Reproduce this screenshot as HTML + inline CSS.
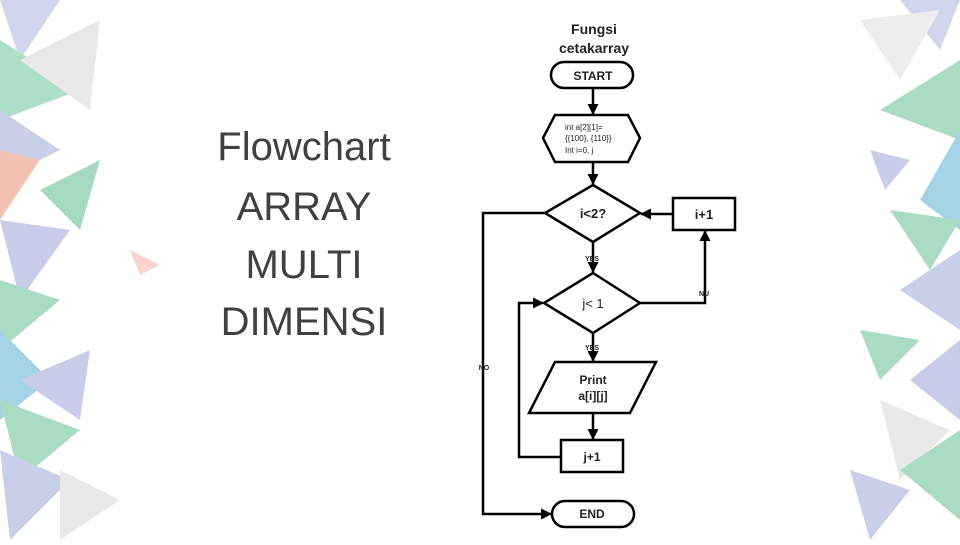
<!DOCTYPE html><html><head><style>body{margin:0;width:960px;height:540px;overflow:hidden;background:#fff;font-family:"Liberation Sans",sans-serif}</style></head><body>
<svg width="960" height="540" viewBox="0 0 960 540" xmlns="http://www.w3.org/2000/svg">
<g opacity="0.45">
<polygon points="0,0 60,0 20,60" fill="#9aa6d8"/>
<polygon points="0,40 80,90 0,120" fill="#4cb885"/>
<polygon points="20,60 100,20 90,110" fill="#d0d0d0"/>
<polygon points="0,110 60,150 0,180" fill="#8c96d0"/>
<polygon points="0,150 40,160 0,220" fill="#e77a5c"/>
<polygon points="40,190 100,160 80,230" fill="#3aae77"/>
<polygon points="0,220 70,230 20,300" fill="#8892cf"/>
<polygon points="0,280 60,300 0,350" fill="#45b37b"/>
<polygon points="130,250 160,265 140,275" fill="#f0a090"/>
<polygon points="0,330 50,380 0,420" fill="#3a9fc9"/>
<polygon points="20,380 90,350 80,420" fill="#8892cf"/>
<polygon points="0,400 80,430 20,480" fill="#45b37b"/>
<polygon points="0,450 70,480 10,540" fill="#8c96d0"/>
<polygon points="60,470 120,500 60,540" fill="#cfcfcf"/>
<polygon points="960,0 900,0 940,50" fill="#9aa6d8"/>
<polygon points="860,20 940,10 900,80" fill="#d8d8d8"/>
<polygon points="960,60 880,110 960,140" fill="#45b37b"/>
<polygon points="870,150 910,160 885,190" fill="#8892cf"/>
<polygon points="960,130 920,200 960,230" fill="#3a9fc9"/>
<polygon points="890,210 960,220 930,270" fill="#45b37b"/>
<polygon points="960,250 900,290 960,330" fill="#8c96d0"/>
<polygon points="860,330 920,340 880,380" fill="#45b37b"/>
<polygon points="960,340 910,380 960,420" fill="#8892cf"/>
<polygon points="880,400 950,430 900,480" fill="#d0d0d0"/>
<polygon points="960,430 900,470 960,520" fill="#45b37b"/>
<polygon points="850,470 910,490 870,540" fill="#8c96d0"/>
</g>
<g font-size="40" fill="#404040" text-anchor="middle" font-family="Liberation Sans">
<text x="304" y="160">Flowchart</text><text x="304" y="220">ARRAY</text><text x="304" y="278">MULTI</text><text x="304" y="335">DIMENSI</text>
</g>
<g font-weight="bold" text-anchor="middle" fill="#222">
<text x="594" y="34" font-size="14">Fungsi</text><text x="594" y="53" font-size="14">cetakarray</text>
</g>
<defs><marker id="a" markerWidth="11" markerHeight="11" refX="10" refY="5.5" orient="auto" markerUnits="userSpaceOnUse"><path d="M0,0L11,5.5L0,11z" fill="#000"/></marker></defs>
<g stroke="#000" stroke-width="2.5" fill="#fff">
<rect x="551" y="62" width="82" height="26" rx="13"/>
<polygon points="555,115 628,115 640,138 628,162 555,162 543,138"/>
<polygon points="593,185 640,213 593,242 545,213"/>
<rect x="673" y="198" width="62" height="32"/>
<polygon points="593,273 640,303 593,333 544,303"/>
<polygon points="555,362 656,362 630,413 529,413"/>
<rect x="561" y="440" width="62" height="32"/>
<rect x="552" y="501" width="82" height="26" rx="13"/>
<g fill="none">
<line x1="593" y1="88" x2="593" y2="114" marker-end="url(#a)"/>
<line x1="593" y1="162" x2="593" y2="184" marker-end="url(#a)"/>
<line x1="593" y1="242" x2="593" y2="272" marker-end="url(#a)"/>
<line x1="593" y1="333" x2="593" y2="361" marker-end="url(#a)"/>
<line x1="593" y1="413" x2="593" y2="439" marker-end="url(#a)"/>
<line x1="673" y1="214" x2="641" y2="214" marker-end="url(#a)"/>
<polyline points="640,303 705,303 705,231" marker-end="url(#a)"/>
<polyline points="561,457 519,457 519,303 543,303" marker-end="url(#a)"/>
<polyline points="545,213 483,213 483,514 551,514" marker-end="url(#a)"/>
</g></g>
<g text-anchor="middle" fill="#222" font-weight="bold">
<text x="593" y="80" font-size="12">START</text>
<text x="593" y="218" font-size="13">i&lt;2?</text>
<text x="704" y="219" font-size="13">i+1</text>
<text x="593" y="308" font-size="13" font-weight="normal">j&lt; 1</text>
<text x="593" y="384" font-size="12">Print</text><text x="593" y="400" font-size="12">a[i][j]</text>
<text x="592" y="461" font-size="12">j+1</text>
<text x="592" y="518" font-size="12">END</text>
<text x="592" y="261" font-size="7">YES</text>
<text x="592" y="350" font-size="7">YES</text>
<text x="704" y="296" font-size="7">NU</text>
<text x="484" y="370" font-size="7">NO</text>
</g>
<g font-size="8" fill="#222"><text x="565" y="130">int a[2][1]=</text><text x="565" y="141">{{100}, {110}}</text><text x="565" y="153">Int i=0, j</text></g>
</svg></body></html>
